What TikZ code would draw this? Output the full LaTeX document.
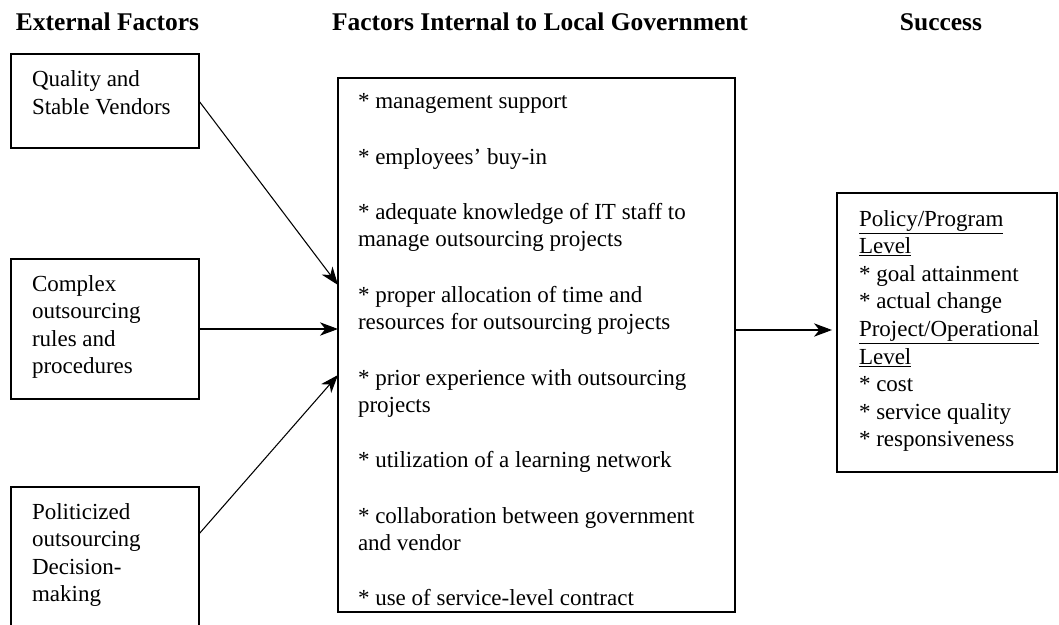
\documentclass[tikz,border=0pt]{standalone}
\usepackage{fontspec}
\setmainfont{Liberation Serif}
\usetikzlibrary{arrows.meta}
\begin{document}
\begin{tikzpicture}[x=0.75pt,y=-0.75pt,
  box/.style={draw, line width=1.1pt, inner sep=0pt, outer sep=0pt, anchor=north west},
  txt/.style={anchor=base west, inner sep=0pt, outer sep=0pt, font=\fontsize{17.25pt}{20.7pt}\selectfont},
  head/.style={anchor=base, inner sep=0pt, outer sep=0pt, font=\fontsize{19.1pt}{23pt}\selectfont\bfseries},
  arr/.style={line width=0.8pt, -{Stealth[length=13.5pt,width=10pt,inset=4pt]}}]
\useasboundingbox[fill=white] (0,0) rectangle (1059,624);

% headings
\node[head] (h1) at (107.5,31) {External Factors};
\node[head] (h2) at (540,31) {Factors Internal to Local Government};
\node[head] (h3) at (941,31) {Success};

% boxes
\node[box, minimum width=141pt, minimum height=70.5pt] (b1) at (11,54) {};
\node[box, minimum width=141pt, minimum height=105pt] (b2) at (11,259) {};
\node[box, minimum width=141pt, minimum height=107.25pt] (b3) at (11,487) {};
\node[box, minimum width=297.75pt, minimum height=400.5pt] (m) at (338,78) {};
\node[box, minimum width=165pt, minimum height=209.25pt] (r) at (837,193) {};

% texts
\node[txt] (t1) at (32,87) {\parbox[t]{140pt}{\raggedright Quality and\\ Stable Vendors}};
\node[txt] (t2) at (32,291) {\parbox[t]{140pt}{\raggedright Complex\\ outsourcing\\ rules and\\ procedures}};
\node[txt] (t3) at (32,519) {\parbox[t]{140pt}{\raggedright Politicized\\ outsourcing\\ Decision-\\ making}};
\node[txt] (tm) at (358,109) {\parbox[t]{290pt}{\raggedright
* management support\\[20.7pt]
{}* employees’ buy-in\\[20.7pt]
{}* adequate knowledge of IT staff to\\
manage outsourcing projects\\[20.7pt]
{}* proper allocation of time and\\
resources for outsourcing projects\\[20.7pt]
{}* prior experience with outsourcing\\
projects\\[20.7pt]
{}* utilization of a learning network\\[20.7pt]
{}* collaboration between government\\
and vendor\\[20.7pt]
{}* use of service-level contract}};
\node[txt] (tr) at (859,226) {\parbox[t]{160pt}{\raggedright
\underline{Policy/Program}\\
\underline{Level}\\
{}* goal attainment\\
{}* actual change\\
\underline{Project/Operational}\\
\underline{Level}\\
{}* cost\\
{}* service quality\\
{}* responsiveness}};

% connectors
\draw[arr] (b1.east) -- ([yshift=45pt]m.west);
\draw[arr] (b2.east) -- (b2.east -| m.west);
\draw[arr] ([yshift=-35.25pt]b3.north east) -- ([yshift=-22.5pt]m.west);
\draw[arr, shorten >=3.75pt] ([yshift=11.25pt]m.east) -- ([yshift=11.25pt]m.east -| r.west);
\end{tikzpicture}
\end{document}
